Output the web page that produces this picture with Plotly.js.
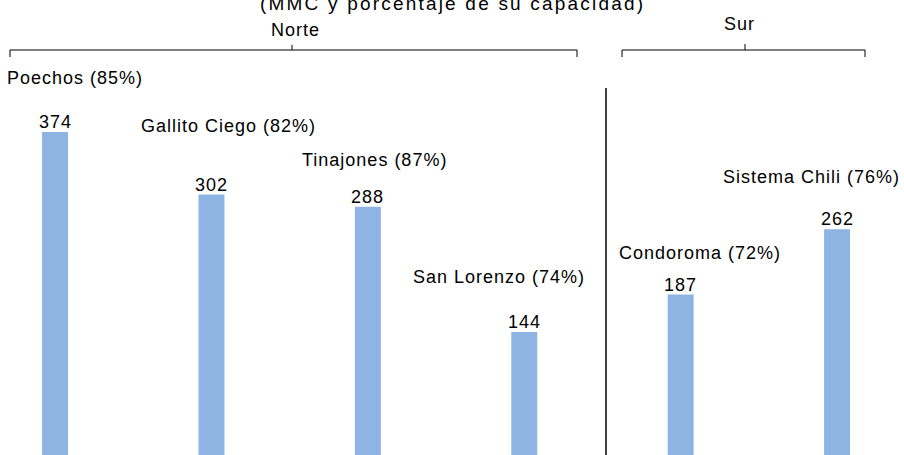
<!DOCTYPE html>
<html>
<head>
<meta charset="utf-8">
<script src="https://cdn.plot.ly/plotly-3.0.1.min.js"></script>
<style>
  html, body { margin: 0; padding: 0; background: #fff; }
  #chart { width: 904px; height: 455px; }
  .annotation-text { letter-spacing: 1px; }
</style>
</head>
<body>
<div id="chart"></div>
<script>
// ---- data ----
const categories = ["Poechos", "Gallito Ciego", "Tinajones", "San Lorenzo", "Condoroma", "Sistema Chili"];
const capacityPct = [85, 82, 87, 74, 72, 76];
const volumes = [374, 302, 288, 144, 187, 262];
const regionNames = ["Norte", "Sur"];
const chartTitle = "(MMC y porcentaje de su capacidad)";

// ---- layout helpers (positions / styles) ----
const W = 904, H = 455;
const FONT = "Liberation Sans, Arial, sans-serif";
const px = x => x / W;
const py = y => 1 - y / H;
const nameShiftX = [20, 17, 7, -25, 19, -26];
const nameShiftY = [54, 69, 47, 55, 42, 52];
const xIdx = categories.map((_, i) => i);

const trace = {
  type: "bar",
  x: xIdx,
  y: volumes,
  width: 0.166,
  marker: { color: "#8EB4E3" },
  hoverinfo: "skip"
};

const annotations = [];
xIdx.forEach(i => {
  annotations.push({
    x: i, y: volumes[i], xref: "x", yref: "y",
    text: String(volumes[i]), showarrow: false,
    xanchor: "center", yanchor: "middle", yshift: 10,
    font: { family: FONT, size: 18, color: "#000" }
  });
  annotations.push({
    x: i, y: volumes[i], xref: "x", yref: "y",
    text: categories[i] + " (" + capacityPct[i] + "%)", showarrow: false,
    xanchor: "center", yanchor: "middle",
    xshift: nameShiftX[i], yshift: nameShiftY[i],
    font: { family: FONT, size: 18, color: "#000" }
  });
});
annotations.push({
  x: px(452), y: py(4), xref: "paper", yref: "paper",
  text: '<span style="letter-spacing:2.2px">' + chartTitle + '</span>', showarrow: false,
  xanchor: "center", yanchor: "middle",
  font: { family: FONT, size: 19, color: "#000" }
});
annotations.push({
  x: px(295), y: py(30), xref: "paper", yref: "paper",
  text: regionNames[0], showarrow: false, xanchor: "center", yanchor: "middle",
  font: { family: FONT, size: 18, color: "#000" }
});
annotations.push({
  x: px(739), y: py(24), xref: "paper", yref: "paper",
  text: regionNames[1], showarrow: false, xanchor: "center", yanchor: "middle",
  font: { family: FONT, size: 18, color: "#000" }
});

function seg(x0, y0, x1, y1, w) {
  return { type: "line", xref: "paper", yref: "paper",
    x0: px(x0), y0: py(y0), x1: px(x1), y1: py(y1),
    line: { color: "#000", width: w || 1 } };
}
const shapes = [
  // Norte bracket
  seg(10, 57, 10, 50), seg(10, 50, 577, 50), seg(577, 50, 577, 57), seg(292, 50, 292, 45),
  // Sur bracket
  seg(622, 57, 622, 50), seg(622, 50, 865, 50), seg(865, 50, 865, 57), seg(745, 50, 745, 44),
  // divider
  seg(606, 88, 606, 455, 1.5)
];

const layout = {
  width: W, height: H,
  margin: { l: 0, r: 0, t: 0, b: 0, pad: 0 },
  paper_bgcolor: "#fff", plot_bgcolor: "#fff",
  showlegend: false,
  xaxis: { range: [-0.352, 5.428], visible: false, fixedrange: true },
  yaxis: { range: [2.5, 525.8], visible: false, fixedrange: true },
  annotations: annotations,
  shapes: shapes,
  font: { family: FONT }
};

Plotly.newPlot("chart", [trace], layout, { staticPlot: true, displayModeBar: false });
</script>
</body>
</html>
